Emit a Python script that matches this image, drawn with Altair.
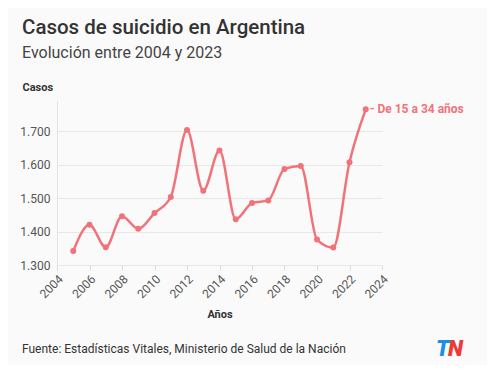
import altair as alt
import pandas as pd

# --- data ---
years = list(range(2005, 2024))
casos = [1342, 1420, 1353, 1446, 1408, 1455, 1503, 1703, 1522, 1642,
         1437, 1485, 1493, 1587, 1596, 1376, 1352, 1607, 1765]
serie = "De 15 a 34 años"
x_ticks = list(range(2004, 2025, 2))
y_ticks = [1300, 1400, 1500, 1600, 1700]
titulo = "Casos de suicidio en Argentina"
subtitulo = "Evolución entre 2004 y 2023"
fuente = "Fuente: Estadísticas Vitales, Ministerio de Salud de la Nación"

df = pd.DataFrame({"anio": years, "casos": casos, "serie": serie})

RED = "#f2727a"
BG = "#fafafa"

x = alt.X(
    "anio:Q",
    scale=alt.Scale(domain=[2004, 2024], nice=False, zero=False),
    axis=alt.Axis(
        values=x_ticks, tickCount=11, format="d", labelAngle=-45, title="Años",
        labelOverlap=False, labelSeparation=0,
        grid=False, domain=False, ticks=True, tickColor="#dddddd", tickSize=5,
        labelFont="Roboto", labelFontSize=12, labelColor="#555555",
        titleFont="Roboto", titleFontSize=11, titleFontWeight="bold",
        titleColor="#333333", titlePadding=9, labelPadding=3,
    ),
)
y = alt.Y(
    "casos:Q",
    scale=alt.Scale(domain=[1300, 1790], nice=False, zero=False),
    axis=alt.Axis(
        values=y_ticks,
        labelExpr="replace(format(datum.value, ','), ',', '.')",
        title="Casos", titleAngle=0, titleAlign="left", titleBaseline="middle",
        titleX=-35, titleY=-14,
        grid=True, gridColor="#e8e8e8", domain=True, domainColor="#e3e3e3",
        ticks=False, labelPadding=7,
        labelFont="Roboto", labelFontSize=12, labelColor="#555555",
        titleFont="Roboto", titleFontSize=11, titleFontWeight="bold",
        titleColor="#333333",
    ),
)

base = alt.Chart(df)

line = base.mark_line(color=RED, strokeWidth=2.5, interpolate="monotone").encode(x=x, y=y)
points = base.mark_circle(color=RED, size=36, opacity=1).encode(x="anio:Q", y="casos:Q")
label_text = base.transform_filter(alt.datum.anio == 2023).transform_calculate(
    t="'- ' + datum.serie"
)
label = label_text.mark_text(
    align="left", baseline="middle", dx=4, font="Roboto", fontSize=12,
    fontWeight="bold", color=RED,
).encode(x="anio:Q", y="casos:Q", text="t:N")

foot_df = pd.DataFrame({"t": [fuente]})
footer = alt.Chart(foot_df).mark_text(
    align="left", baseline="alphabetic", font="Roboto", fontSize=12, color="#333333"
).encode(x=alt.value(-35), y=alt.value(252), text="t:N")

logo_t = alt.Chart(pd.DataFrame({"t": ["T"]})).mark_text(
    align="left", baseline="alphabetic", font="Roboto", fontSize=22,
    fontWeight=900, fontStyle="italic", color="#1a8fe6"
).encode(x=alt.value(379), y=alt.value(255), text="t:N")
logo_n = alt.Chart(pd.DataFrame({"t": ["N"]})).mark_text(
    align="left", baseline="alphabetic", font="Roboto", fontSize=22,
    fontWeight=900, fontStyle="italic", color="#ee3a36"
).encode(x=alt.value(391), y=alt.value(255), text="t:N")

chart = alt.layer(line, points, label, footer, logo_t, logo_n).properties(
    width=325,
    height=164,
    autosize=alt.AutoSizeParams(type="none"),
    padding={"left": 49, "top": 93, "right": 105, "bottom": 100},
    background=BG,
    title=alt.TitleParams(
        text=titulo, subtitle=subtitulo, anchor="start", frame="group",
        dx=-35, offset=20,
        font="Roboto", fontSize=20.5, fontWeight=500, color="#333333",
        subtitleFont="Roboto", subtitleFontSize=16, subtitleColor="#444444",
        subtitlePadding=7,
    ),
).configure_view(stroke=None).configure_axisX(labelOverlap=False)

chart.save("out.html", embed_options={"renderer": "svg", "actions": False})
